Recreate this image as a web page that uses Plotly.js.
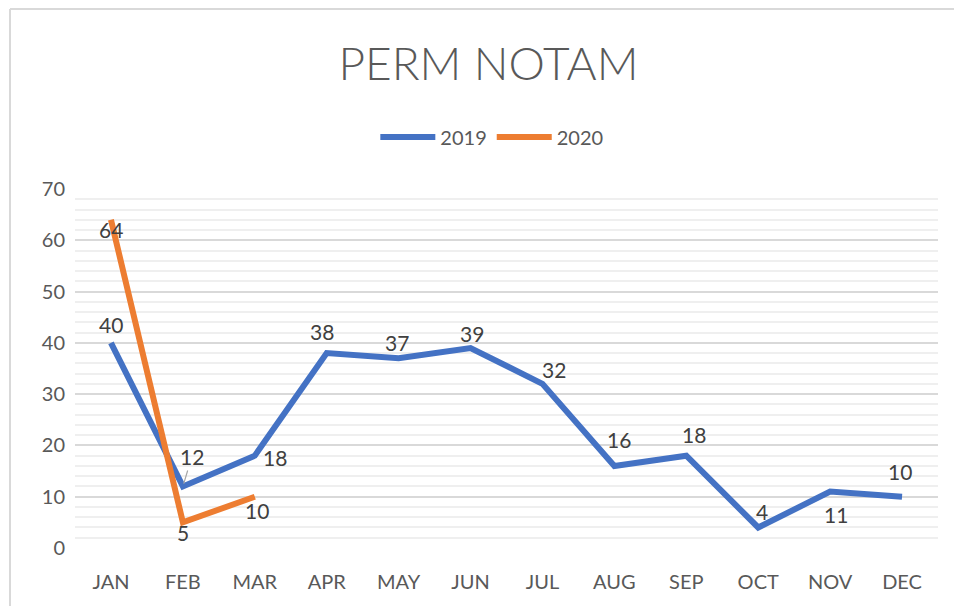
<!DOCTYPE html>
<html>
<head>
<meta charset="utf-8">
<script src="https://cdn.plot.ly/plotly-3.0.1.min.js"></script>
<style>html,body{margin:0;padding:0;background:#fff;}#chart{width:954px;height:606px;}</style>
</head>
<body>
<div id="chart"></div>
<script>
const months = ['JAN','FEB','MAR','APR','MAY','JUN','JUL','AUG','SEP','OCT','NOV','DEC'];
const series2019 = [40,12,18,38,37,39,32,16,18,4,11,10];
const months2020 = ['JAN','FEB','MAR'];
const series2020 = [64,5,10];
const yTicks = [0,10,20,30,40,50,60,70];

// label offsets in pixels [xshift, yshift]
const off2019 = [[0,18],[9,30],[20,-2],[-5,22],[-2,16],[1,14],[12,14],[5,26],[8,21],[4,16],[6,-23],[-2,25]];
const off2020 = [[0,-10],[0,-10],[2,-14]];

const FONT = 'Lato, "Open Sans", sans-serif';
const labelFont = {family: FONT, size: 21, color: '#404040'};

const traces = [
  {x: months, y: series2019, name: '2019', type: 'scatter', mode: 'lines',
   line: {color: '#4472C4', width: 6}},
  {x: months2020, y: series2020, name: '2020', type: 'scatter', mode: 'lines',
   line: {color: '#ED7D31', width: 6}}
];

const annotations = [];
series2019.forEach((v, i) => {
  const a = {x: months[i], y: v, xref: 'x', yref: 'y', text: String(v), showarrow: false,
             xshift: off2019[i][0], yshift: off2019[i][1], font: labelFont};
  if (i === 1) {
    Object.assign(a, {showarrow: true, ax: off2019[i][0], ay: -off2019[i][1], xshift: 0, yshift: 0,
                      arrowhead: 0, arrowcolor: '#a6a6a6', arrowwidth: 1.2, standoff: 3});
  }
  annotations.push(a);
});
series2020.forEach((v, i) => {
  annotations.push({x: months2020[i], y: v, xref: 'x', yref: 'y', text: String(v), showarrow: false,
                    xshift: off2020[i][0], yshift: off2020[i][1], font: labelFont});
});

const layout = {
  width: 954, height: 606,
  margin: {l: 75, r: 16, t: 189, b: 58},
  paper_bgcolor: '#ffffff', plot_bgcolor: '#ffffff',
  font: {family: FONT, color: '#595959'},
  title: {text: 'PERM NOTAM', font: {family: FONT, size: 46, weight: 300, color: '#595959'},
          x: 0.512, xref: 'container', y: 0.894, yref: 'container', yanchor: 'middle', xanchor: 'center'},
  showlegend: true,
  legend: {orientation: 'h', x: 0.483, xanchor: 'center', y: 1.145, yanchor: 'middle',
           font: {family: FONT, size: 20, color: '#595959'}, itemwidth: 55, traceorder: 'normal'},
  xaxis: {type: 'category', categoryarray: months, categoryorder: 'array', range: [-0.5, 11.5],
          showgrid: false, zeroline: false, showline: false, ticks: '', ticklabelstandoff: 20,
          tickfont: {family: FONT, size: 20, color: '#595959'}},
  yaxis: {range: [0, 70], tickvals: yTicks, showgrid: true, gridcolor: '#d9d9d9', gridwidth: 2,
          zeroline: false, showline: false, ticks: '', ticklabelstandoff: 9,
          tickfont: {family: FONT, size: 20, color: '#595959'},
          minor: {dtick: 2, showgrid: true, gridcolor: '#efefef', gridwidth: 2}},
  annotations: annotations,
  shapes: [
    {type: 'line', xref: 'paper', yref: 'paper', x0: -0.0753, x1: -0.0753, y0: 1.5014, y1: -0.17,
     line: {color: '#d9d9d9', width: 2}},
    {type: 'line', xref: 'paper', yref: 'paper', x0: -0.0753, x1: 1.02, y0: 1.5014, y1: 1.5014,
     line: {color: '#d9d9d9', width: 2}}
  ]
};

Plotly.newPlot('chart', traces, layout, {displayModeBar: false, staticPlot: true});
</script>
</body>
</html>
